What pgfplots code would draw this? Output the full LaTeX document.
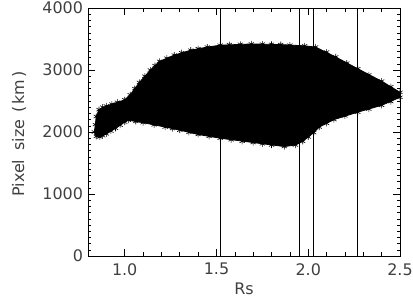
\documentclass[border=0pt]{standalone}
\usepackage{pgfplots}
\pgfplotsset{compat=1.18}
\usepackage{fontspec}
\setmainfont{DejaVu Sans}
\begin{document}
\begin{tikzpicture}
\begin{axis}[
  scale only axis,
  width=312bp, height=248bp,
  xmin=0.8, xmax=2.5, ymin=0, ymax=4000,
  xtick={1.0,1.5,2.0,2.5},
  xticklabels={1.0,1.5,2.0,2.5},
  ytick={0,1000,2000,3000,4000},
  yticklabels={0,1000,2000,3000,4000},
  minor x tick num=4,
  minor y tick num=9,
  tick align=inside,
  major tick length=7bp,
  minor tick length=3.5bp,
  every tick/.style={black, line width=0.6bp},
  axis line style={line width=0.9bp},
  tick label style={font=\fontsize{16}{19}\selectfont, text=black!75},
  xticklabel style={yshift=-3.7bp},
  yticklabel style={xshift=-1.5bp},
  label style={font=\fontsize{16}{19}\selectfont, text=black!75},
  xlabel={Rs},
  ylabel={Pixel\hspace{9bp}size\hspace{7bp}(\hspace{2bp}km\hspace{2bp})},
  xlabel style={at={(axis description cs:0.5,0)}, anchor=center, yshift=-33bp},
  ylabel style={at={(axis description cs:-0.221,0.492)}, anchor=center},
  clip=true,
]
% filled cloud of pixel sizes (outline)
\addplot[fill=black, draw=black, line width=0.8bp] coordinates {
(0.835,2000) (0.845,2250) (0.86,2360) (0.90,2420) (0.96,2480) (1.00,2520)
(1.03,2600) (1.08,2800) (1.14,3000) (1.19,3140) (1.27,3240) (1.36,3320)
(1.45,3370) (1.52,3400) (1.69,3420) (1.85,3410) (1.98,3390) (2.04,3370)
(2.15,3210) (2.27,3020) (2.40,2820) (2.50,2640)
(2.50,2560) (2.40,2430) (2.27,2320) (2.14,2200) (2.06,2080) (2.03,1990)
(1.97,1850) (1.93,1790) (1.87,1765) (1.70,1830) (1.52,1900) (1.40,1960)
(1.30,2030) (1.22,2080) (1.10,2150) (1.02,2190) (1.00,2160) (0.95,2060)
(0.90,1970) (0.865,1920) (0.845,1930)
} -- cycle;
% asterisk marks along the fringe
\addplot[only marks, mark=asterisk, mark size=3bp, line width=0.6bp, black] coordinates {
(0.835,2000) (0.84,2120) (0.845,2250) (0.86,2360) (0.88,2400) (0.90,2420) (0.93,2450) (0.96,2480) (1.00,2520)
(1.03,2600) (1.055,2700) (1.08,2800) (1.11,2900) (1.14,3000) (1.165,3070) (1.19,3140) (1.23,3190) (1.27,3240) (1.31,3280) (1.36,3320)
(1.40,3345) (1.45,3370) (1.52,3400) (1.57,3410) (1.63,3415) (1.69,3420) (1.75,3418) (1.80,3415) (1.85,3410) (1.90,3400) (1.98,3390) (2.04,3370)
(2.10,3290) (2.15,3210) (2.21,3110) (2.27,3020) (2.33,2920) (2.40,2820) (2.45,2730) (2.50,2640)
(2.50,2560) (2.45,2490) (2.40,2430) (2.33,2370) (2.27,2320) (2.20,2260) (2.14,2200) (2.10,2140) (2.06,2080) (2.03,1990)
(2.00,1920) (1.97,1850) (1.93,1790) (1.87,1765) (1.80,1790) (1.75,1810) (1.70,1830) (1.64,1850) (1.58,1875) (1.52,1900) (1.46,1930) (1.40,1960)
(1.35,1995) (1.30,2030) (1.26,2055) (1.22,2080) (1.16,2115) (1.10,2150) (1.06,2170) (1.02,2190) (1.00,2160) (0.975,2110) (0.95,2060)
(0.925,2015) (0.90,1970) (0.88,1940) (0.865,1920) (0.845,1930)
};
% vertical reference lines
\addplot[black, line width=0.8bp] coordinates {(1.524,0) (1.524,4000)};
\addplot[black, line width=0.8bp] coordinates {(1.952,0) (1.952,4000)};
\addplot[black, line width=0.8bp] coordinates {(2.026,0) (2.026,4000)};
\addplot[black, line width=0.8bp] coordinates {(2.270,0) (2.270,4000)};
\end{axis}
\pgfresetboundingbox
\useasboundingbox ([xshift=-88bp,yshift=-46bp]current axis.south west) rectangle ([xshift=13bp,yshift=8bp]current axis.north east);
\end{tikzpicture}
\end{document}
